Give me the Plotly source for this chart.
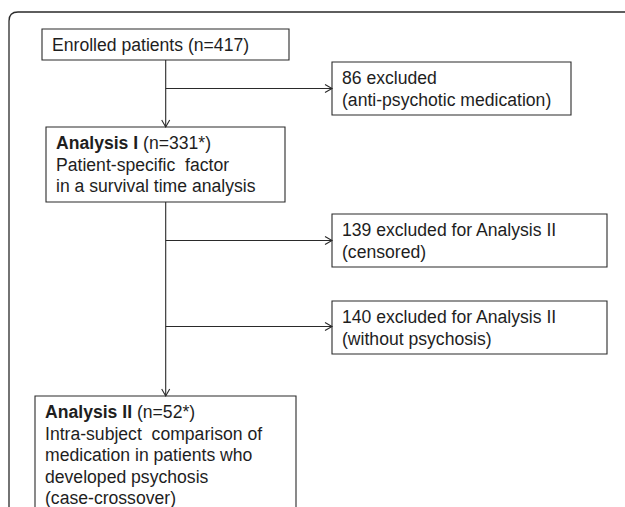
import plotly.graph_objects as go

# ---- data ----
counts = [417, 86, 331, 139, 140, 52]
box_titles = ["Enrolled patients", "excluded", "Analysis I", "excluded for Analysis II",
              "excluded for Analysis II", "Analysis II"]
box_notes = [[], ["(anti-psychotic medication)"],
             ["Patient-specific  factor", "in a survival time analysis"],
             ["(censored)"], ["(without psychosis)"],
             ["Intra-subject  comparison of", "medication in patients who",
              "developed psychosis", "(case-crossover)"]]

# ---- layout (pixel coordinates) ----
boxes = [  # x0, y0, x1, y1, text x, first-line y
    (42, 29, 289, 60, 49.5, 44.5),
    (332, 62, 571, 115, 339.5, 78),
    (46, 127, 285, 202, 53.5, 143),
    (332, 214, 607, 267, 339.5, 230),
    (332, 301, 607, 354, 339.5, 317),
    (35, 396, 296, 540, 42.5, 412),
]
line_h = 21.6
INK = "#1e1e1e"
LINE = "#2a2a2a"
FONT = "Liberation Sans, Arial, sans-serif"
FS = 17.6

fig = go.Figure()
shapes = []
annotations = []

# outer frame with rounded corner
shapes.append(dict(type="path", path="M 9,520 L 9,21 Q 9,12 18,12 L 640,12",
                   line=dict(color=LINE, width=1.3), xref="x", yref="y"))

for i, (x0, y0, x1, y1, tx, ty) in enumerate(boxes):
    shapes.append(dict(type="rect", x0=x0, y0=y0, x1=x1, y1=y1, xref="x", yref="y",
                       line=dict(color=LINE, width=1.1), fillcolor="white"))
    if i == 0:
        first = f"{box_titles[i]} (n={counts[i]})"
    elif i in (2, 5):
        first = f"<b>{box_titles[i]}</b> (n={counts[i]}*)"
    else:
        first = f"{counts[i]} {box_titles[i]}"
    lines = [first] + box_notes[i]
    for k, t in enumerate(lines):
        annotations.append(dict(x=tx, y=ty + k * line_h, xref="x", yref="y", text=t,
                                showarrow=False, xanchor="left", yanchor="middle",
                                font=dict(family=FONT, size=FS, color=INK)))

def seg(xa, ya, xb, yb):
    shapes.append(dict(type="line", x0=xa, y0=ya, x1=xb, y1=yb, xref="x", yref="y",
                       line=dict(color=LINE, width=1.1)))

def head_down(x, y):
    shapes.append(dict(type="path", path=f"M {x-4},{y-7} L {x},{y} L {x+4},{y-7}",
                       xref="x", yref="y", line=dict(color=LINE, width=1.1)))

def head_right(x, y):
    shapes.append(dict(type="path", path=f"M {x-7},{y-4} L {x},{y} L {x-7},{y+4}",
                       xref="x", yref="y", line=dict(color=LINE, width=1.1)))

cx = 165.7
# enrolled -> analysis I
seg(cx, 60, cx, 127)
head_down(cx, 127)
# branch -> 86 excluded
seg(cx, 88.5, 332, 88.5)
head_right(332, 88.5)
# analysis I -> analysis II
seg(cx, 202, cx, 396)
head_down(cx, 396)
# branches -> 139, 140
seg(cx, 240.5, 332, 240.5)
head_right(332, 240.5)
seg(cx, 326.5, 332, 326.5)
head_right(332, 326.5)

fig.update_layout(
    width=625, height=507,
    margin=dict(l=0, r=0, t=0, b=0),
    paper_bgcolor="white", plot_bgcolor="white",
    xaxis=dict(range=[0, 625], visible=False, fixedrange=True),
    yaxis=dict(range=[507, 0], visible=False, fixedrange=True),
    shapes=shapes, annotations=annotations, showlegend=False,
)
fig.write_html("out.html", config={"displayModeBar": False},
               post_script="document.body.style.margin='0';document.body.style.overflow='hidden';")
